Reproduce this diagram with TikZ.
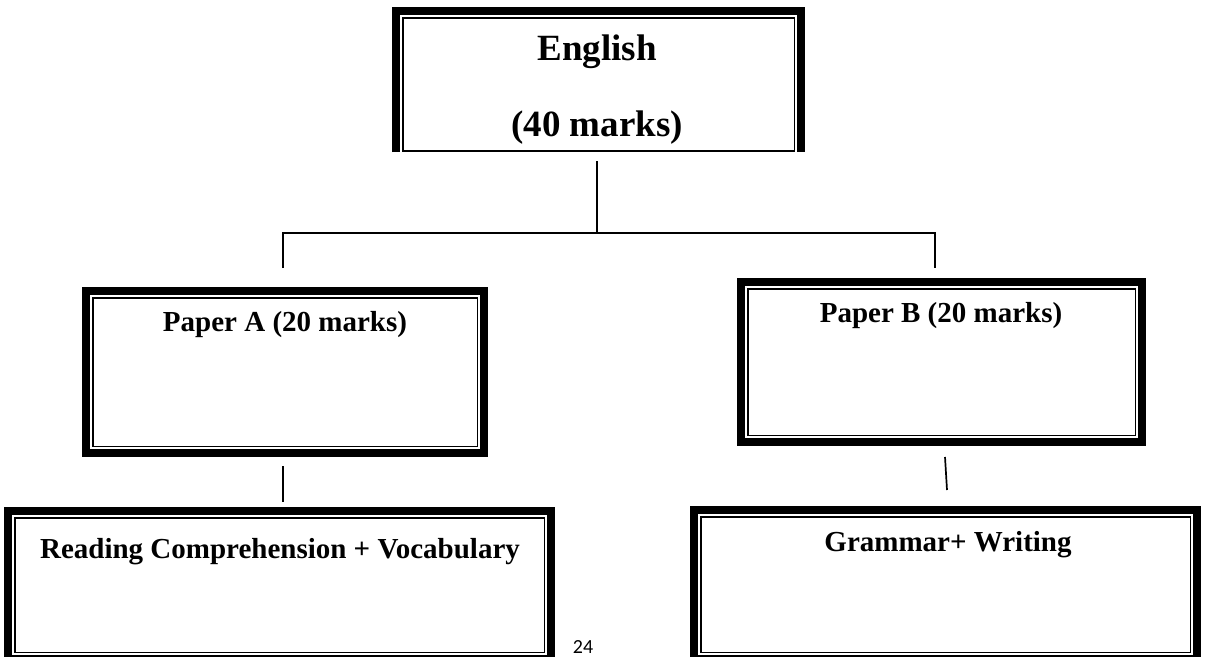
\documentclass[tikz,border=0pt]{standalone}
\usepackage{fontspec}
\setmainfont{Liberation Serif}
\newfontfamily\pagefont{Carlito}
\begin{document}
\begin{tikzpicture}[x=1pt,y=-1pt,
  thickbar/.style={line width=8pt, line join=miter},
  thinbar/.style={line width=1.5pt},
  conn/.style={line width=1.7pt},
  boxframe/.style={inner sep=0pt, outer sep=0pt, anchor=north west},
  bigtxt/.style={font=\bfseries\fontsize{37}{40}\selectfont, inner sep=0pt, anchor=base},
  lbl/.style={font=\bfseries\fontsize{29}{33}\selectfont, inner sep=0pt, anchor=base}]
\useasboundingbox (0,0) rectangle (1206,656);
\clip (0,0) rectangle (1206,656);
\fill[white] (0,0) rectangle (1206,656);

% box frames
\node[boxframe, minimum width=413pt, minimum height=156pt] (en) at (392,7) {};
\node[boxframe, minimum width=406pt, minimum height=170pt] (pa) at (82,287) {};
\node[boxframe, minimum width=409pt, minimum height=168pt] (pb) at (737,278) {};
\node[boxframe, minimum width=551pt, minimum height=156pt] (rc) at (4,507) {};
\node[boxframe, minimum width=511pt, minimum height=157pt] (gw) at (690,506) {};

\draw[thickbar] ([shift={(4,145)}]en.north west) -- ([shift={(4,4)}]en.north west)
  -- ([shift={(-4,4)}]en.north east) -- ([shift={(-4,145)}]en.north east);
\draw[thinbar] ([shift={(10.75,10.75)}]en.north west) rectangle ([shift={(-10.75,144)}]en.north east);

\foreach \n in {pa,pb,rc,gw} {
  \draw[thickbar] ([shift={(4,4)}]\n.north west) rectangle ([shift={(-4,-4)}]\n.south east);
  \draw[thinbar] ([shift={(10.75,10.75)}]\n.north west) rectangle ([shift={(-10.75,-10.75)}]\n.south east);
}

% texts
\node[bigtxt] (t1) at (597,60) {English};
\node[bigtxt] (t2) at (597,136) {(40 marks)};
\node[lbl] (ta) at (285,331) {Paper A (20 marks)};
\node[lbl] (tb) at (941,322) {Paper B (20 marks)};
\node[lbl] (tr) at (280,558) {Reading Comprehension + Vocabulary};
\node[lbl] (tg) at (948,551) {Grammar+ Writing};
\node[font=\pagefont\fontsize{20}{24}\selectfont, inner sep=0pt, anchor=base] (pg) at (583,653) {24};

% connectors
\coordinate (c0) at (597,161);
\coordinate (c1) at (597,233);
\coordinate (cl) at (283,233);
\coordinate (cr) at (935,233);
\coordinate (dl) at (283,268);
\coordinate (dr) at (935,268);
\coordinate (a1) at (283,466);
\coordinate (a2) at (283,502);
\coordinate (b1) at (945,457);
\coordinate (b2) at (947,490);
\draw[conn] (c0) -- (c1);
\draw[conn] (dl) -- (cl) -- (cr) -- (dr);
\draw[conn] (a1) -- (a2);
\draw[conn] (b1) -- (b2);
\end{tikzpicture}
\end{document}
